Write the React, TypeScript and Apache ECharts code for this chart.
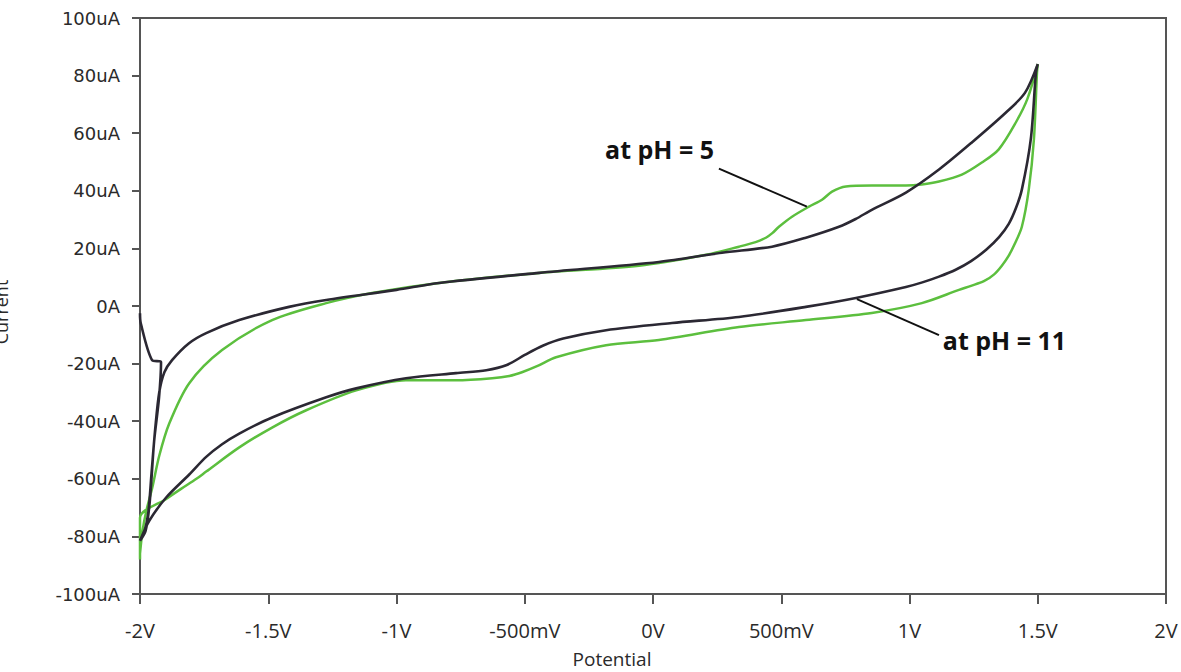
import React, { useEffect, useRef } from "react";
import * as echarts from "echarts";

// Tick labels
const xTickValues = [-2, -1.5, -1, -0.5, 0, 0.5, 1, 1.5, 2];
const xTickLabels = ["-2V", "-1.5V", "-1V", "-500mV", "0V", "500mV", "1V", "1.5V", "2V"];
const yTickValues = [-100, -80, -60, -40, -20, 0, 20, 40, 60, 80, 100];
const yTickLabels = ["-100uA", "-80uA", "-60uA", "-40uA", "-20uA", "0A", "20uA", "40uA", "60uA", "80uA", "100uA"];

// pH = 11 (black) cyclic voltammogram: potential (V) and current (uA)
const blackV = [
  -2.0, -1.997, -1.953, -1.918, -1.926, -1.945, -1.962, -1.978, -2.0,
  -1.985, -1.968, -1.955, -1.94, -1.925, -1.905, -1.875, -1.81, -1.742, -1.613, -1.419, -1.274, -1.0, -0.834, -0.444,
  0.023, 0.269, 0.464, 0.596, 0.725, 0.79, 0.853, 0.986, 1.115, 1.243, 1.376, 1.45, 1.5,
  1.493, 1.473, 1.438, 1.415, 1.387, 1.35, 1.3, 1.24, 1.18, 1.115, 1.05, 0.986, 0.791, 0.596, 0.335, 0.074, -0.183,
  -0.35, -0.43, -0.5, -0.57, -0.65, -0.768, -0.963, -1.157, -1.274, -1.485, -1.613, -1.68, -1.742, -1.808, -1.898,
  -1.964, -2.0,
];
const blackI = [
  -2.5, -6, -18.8, -19.5, -32, -47, -68, -78, -81.5,
  -79, -72, -58, -42, -30, -23, -18.8, -13, -9.4, -4.9, -0.3, 2.1, 5.6, 8, 11.5,
  15.3, 18.5, 20.6, 23.7, 27.5, 30.2, 33.4, 39.4, 47.4, 56.8, 67.2, 74, 84,
  81, 58, 40.4, 34, 28.5, 24, 19.6, 15.6, 12.6, 10.2, 8.2, 6.6, 2.8, -0.3, -3.8, -5.9, -8.4,
  -11.3, -13.8, -17, -20.5, -22.3, -23.3, -25.1, -28.6, -31.7, -38.7, -44.3, -48, -52.4, -58.5, -66.5,
  -74.6, -81.5,
];

// pH = 5 (green) cyclic voltammogram
const greenV = [
  -2.0, -1.99, -1.975, -1.952, -1.925, -1.886, -1.808, -1.68, -1.485, -1.274, -1.095, -0.834, -0.444, -0.055,
  0.207, 0.335, 0.4, 0.44, 0.465, 0.491, 0.542, 0.608, 0.659, 0.698, 0.752, 0.853, 0.986, 1.048, 1.115, 1.204, 1.282,
  1.348, 1.415, 1.46, 1.5,
  1.497, 1.485, 1.465, 1.438, 1.41, 1.387, 1.36, 1.33, 1.29, 1.24, 1.193, 1.048, 0.853, 0.596, 0.335, 0.023, -0.183,
  -0.378, -0.45, -0.511, -0.56, -0.627, -0.768, -0.963, -1.157, -1.352, -1.485, -1.613, -1.742, -1.78, -1.84, -1.898,
  -2.0, -2.0,
];
const greenI = [
  -86, -78, -71, -63, -52, -40.8, -26.8, -15.3, -4.9, 1.0, 4.5, 8, 11.5, 14,
  17.8, 20.6, 22.2, 23.7, 25.3, 27.5, 31, 34.5, 36.9, 39.7, 41.5, 41.8, 41.8, 42.2, 43.2, 45.6, 49.8,
  54.4, 63.8, 72, 84,
  81, 57.8, 40.4, 27.5, 21.5, 17.5, 14, 11, 8.6, 7, 5.6, 1.0, -2.4, -4.9, -7.3, -11.8, -13.6,
  -17.8, -20.8, -23, -24.3, -25.1, -25.8, -25.8, -29.3, -36.2, -42.2, -49.1, -57.5, -60, -63.5, -67,
  -73.5, -88,
];

// Annotation anchors (data coordinates)
const pH5Label = "at pH = 5";
const pH5Line = [[0.257, 47.7], [0.6, 34.5]];
const pH5TextAt = [-0.187, 54.4];
const pH11Label = "at pH = 11";
const pH11Line = [[0.795, 2.4], [1.115, -10.1]];
const pH11TextAt = [1.13, -11.8];

const zip = (a: number[], b: number[]) => a.map((v, i) => [v, b[i]]);

export default function App() {
  const ref = useRef<HTMLDivElement>(null);
  useEffect(() => {
    document.body.style.margin = "0";
    const chart = echarts.init(ref.current!, null, { renderer: "svg" });
    const axisColor = "#555";
    const labelColor = "#2a2a2a";
    chart.setOption({
      animation: false,
      backgroundColor: "#ffffff",
      grid: {
        left: 140,
        right: 15,
        top: 18,
        bottom: 78,
        show: true,
        borderColor: axisColor,
        borderWidth: 2,
      },
      xAxis: {
        type: "value",
        min: -2,
        max: 2,
        interval: 0.5,
        splitLine: { show: false },
        axisLine: { show: true, onZero: false, lineStyle: { color: axisColor, width: 2 } },
        axisTick: { show: true, length: 10, lineStyle: { color: axisColor, width: 2 } },
        axisLabel: {
          color: labelColor,
          fontFamily: "Open Sans",
          fontSize: 20,
          margin: 26,
          formatter: (v: number) => {
            const idx = xTickValues.findIndex((t) => Math.abs(t - v) < 1e-6);
            return idx >= 0 ? xTickLabels[idx] : "";
          },
        },
      },
      yAxis: {
        type: "value",
        min: -100,
        max: 100,
        interval: 20,
        splitLine: { show: false },
        axisLine: { show: true, onZero: false, lineStyle: { color: axisColor, width: 2 } },
        axisTick: { show: true, length: 8, lineStyle: { color: axisColor, width: 2 } },
        axisLabel: {
          color: labelColor,
          fontFamily: "DejaVu Sans",
          fontSize: 18,
          margin: 20,
          formatter: (v: number) => {
            const idx = yTickValues.findIndex((t) => Math.abs(t - v) < 1e-6);
            return idx >= 0 ? yTickLabels[idx] : "";
          },
        },
      },
      series: [
        {
          name: "pH 5",
          type: "line",
          data: zip(greenV, greenI),
          showSymbol: false,
          smooth: 0.3,
          lineStyle: { color: "#5cbf3e", width: 2.5 },
          z: 2,
        },
        {
          name: "pH 11",
          type: "line",
          data: zip(blackV, blackI),
          showSymbol: false,
          smooth: 0.3,
          lineStyle: { color: "#2b2833", width: 2.6 },
          z: 3,
        },
      ],
    });

    const px = (p: number[]) => chart.convertToPixel({ gridIndex: 0 }, p) as number[];
    const a1 = px(pH5Line[0]);
    const b1 = px(pH5Line[1]);
    const t1 = px(pH5TextAt);
    const a2 = px(pH11Line[0]);
    const b2 = px(pH11Line[1]);
    const t2 = px(pH11TextAt);
    chart.setOption({
      graphic: [
        {
          type: "line",
          shape: { x1: a1[0], y1: a1[1], x2: b1[0], y2: b1[1] },
          style: { stroke: "#111", lineWidth: 2 },
          z: 10,
        },
        {
          type: "line",
          shape: { x1: a2[0], y1: a2[1], x2: b2[0], y2: b2[1] },
          style: { stroke: "#111", lineWidth: 2 },
          z: 10,
        },
        {
          type: "text",
          x: t1[0],
          y: t1[1],
          style: {
            text: pH5Label,
            fill: "#111",
            font: "bold 25px 'Open Sans'",
            verticalAlign: "middle",
            align: "left",
          },
          z: 10,
        },
        {
          type: "text",
          x: t2[0],
          y: t2[1],
          style: {
            text: pH11Label,
            fill: "#111",
            font: "bold 25px 'Open Sans'",
            verticalAlign: "middle",
            align: "left",
          },
          z: 10,
        },
        {
          type: "text",
          x: 612,
          y: 659,
          style: {
            text: "Potential",
            fill: labelColor,
            font: "19px 'Open Sans'",
            align: "center",
            verticalAlign: "middle",
          },
        },
        {
          type: "text",
          x: 1,
          y: 312,
          rotation: Math.PI / 2,
          style: {
            text: "Current",
            fill: labelColor,
            font: "18px 'Open Sans'",
            align: "center",
            verticalAlign: "middle",
          },
        },
      ],
    });

    return () => chart.dispose();
  }, []);
  return <div ref={ref} style={{ width: 1181, height: 672 }} />;
}
